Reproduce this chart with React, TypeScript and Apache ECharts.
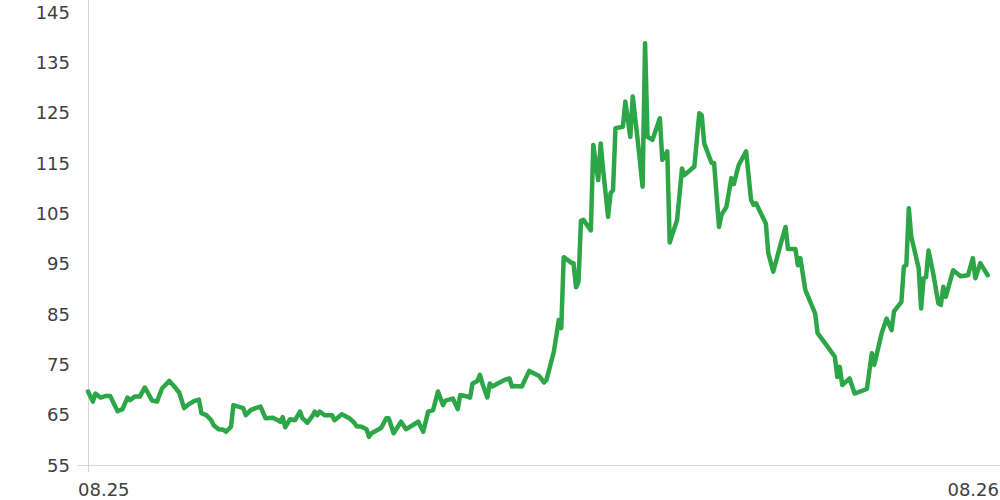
import React, { useEffect, useRef } from "react";
import * as echarts from "echarts";

// Day offsets from the first observation (calendar days)
const days = [
  0, 2, 3, 5, 7, 9, 12, 14, 16, 17, 19, 21, 23, 24, 26, 28, 30, 33, 35, 37,
  39, 41, 43, 45, 46, 48, 50, 51, 53, 55, 56, 58, 59, 61, 63, 64, 66, 68, 70, 72,
  75, 77, 78, 79, 80, 82, 84, 86, 87, 89, 91, 92, 93, 94, 96, 99, 100, 103, 106, 108,
  109, 111, 113, 114, 115, 118, 119, 121, 122, 124, 127, 129, 131, 134, 136, 138, 140, 142, 144, 145,
  148, 150, 151, 154, 155, 156, 158, 159, 160, 162, 163, 164, 167, 169, 171, 172, 173, 176, 179, 181,
  183, 185, 186, 189, 191, 192, 193, 196, 197, 198, 199, 200, 201, 204, 205, 207, 208, 209, 211, 212,
  213, 214, 217, 218, 220, 221, 223, 225, 226, 227, 229, 232, 233, 235, 236, 239, 241, 242, 246, 248,
  249, 250, 253, 254, 256, 257, 259, 261, 262, 264, 267, 269, 270, 271, 275, 276, 278, 281, 283, 284,
  287, 288, 289, 291, 295, 296, 299, 303, 304, 305, 306, 309, 311, 316, 318, 319, 322, 324, 326, 327,
  330, 331, 332, 333, 334, 337, 338, 339, 340, 341, 343, 345, 346, 347, 348, 351, 354, 357, 359, 360,
  362, 365,
];

const prices = [
  69.6, 67.6, 69.2, 68.4, 68.7, 68.7, 65.7, 66.1, 68.4, 67.9, 68.6, 68.6, 70.4, 69.6, 67.8, 67.6, 70.2, 71.7, 70.6, 69.4,
  66.3, 67.1, 67.7, 68.0, 65.3, 64.9, 63.9, 62.9, 62.1, 62.0, 61.6, 62.6, 66.9, 66.6, 66.3, 64.9, 65.9, 66.3, 66.6, 64.3,
  64.4, 63.9, 63.6, 64.5, 62.5, 64.1, 63.9, 65.6, 64.3, 63.4, 64.7, 65.6, 64.9, 65.6, 64.9, 64.9, 63.9, 65.1, 64.3, 63.4,
  62.7, 62.6, 62.1, 60.6, 61.3, 62.1, 62.4, 64.3, 64.3, 61.3, 63.6, 62.1, 62.7, 63.6, 61.6, 65.6, 65.9, 69.6, 66.9, 67.8,
  68.2, 66.1, 68.9, 68.6, 68.4, 71.2, 71.7, 72.9, 71.2, 68.4, 71.2, 70.6, 71.4, 71.9, 72.2, 70.6, 70.7, 70.6, 73.7, 73.2,
  72.7, 71.4, 71.9, 77.5, 83.8, 82.2, 96.3, 95.2, 95.1, 90.3, 91.4, 103.5, 103.7, 101.6, 118.6, 111.6, 118.9, 113.6, 104.3, 109.0,
  109.6, 121.9, 122.2, 127.2, 120.2, 128.2, 119.6, 110.3, 138.8, 120.2, 119.6, 123.9, 115.6, 117.3, 99.2, 103.7, 113.9, 112.6, 114.3, 124.9,
  124.5, 118.9, 115.0, 115.0, 102.3, 104.7, 106.3, 112.0, 110.8, 114.6, 117.3, 107.7, 106.7, 107.0, 103.0, 97.1, 93.4, 98.9, 102.3, 97.9,
  97.9, 94.7, 96.1, 89.8, 85.1, 81.2, 79.2, 76.5, 72.5, 74.5, 70.9, 72.2, 69.2, 70.1, 77.2, 74.9, 81.2, 84.1, 81.8, 85.5,
  87.4, 94.4, 94.7, 106.0, 100.4, 94.1, 86.1, 92.1, 92.3, 97.6, 92.8, 87.1, 86.8, 90.4, 88.4, 93.7, 92.5, 92.7, 96.1, 92.1,
  95.1, 92.7,
];

const xLabels = ["08.25", "08.26"];
const yMin = 55;
const yStep = 10;

const GREEN = "#2ca646";
const AXIS = "#d6d6d6";
const TEXT = "#404040";
const FONT = "DejaVu Sans";

export default function App() {
  const ref = useRef<HTMLDivElement>(null);

  useEffect(() => {
    if (!ref.current) return;
    const chart = echarts.init(ref.current, null, { renderer: "svg" });
    const data = days.map((d, i) => [d, prices[i]]);
    chart.setOption({
      animation: false,
      backgroundColor: "#ffffff",
      grid: { left: 88, right: 0, top: 0, bottom: 35, containLabel: false, outerBoundsMode: "none" },
      xAxis: {
        type: "value",
        min: 0,
        max: 370,
        axisLine: { show: true, lineStyle: { color: AXIS, width: 1 } },
        axisTick: { show: true, customValues: [0], length: 7, lineStyle: { color: AXIS } },
        axisLabel: { show: false },
        splitLine: { show: false },
      },
      yAxis: {
        type: "value",
        min: yMin,
        max: 147.39,
        interval: yStep,
        axisLine: { show: true, lineStyle: { color: AXIS, width: 1 } },
        axisTick: { show: true, customValues: [yMin], length: 10, lineStyle: { color: AXIS } },
        splitLine: { show: false },
        axisLabel: {
          color: TEXT,
          fontSize: 18,
          fontFamily: FONT,
          margin: 18,
          formatter: (v: number) => (Math.abs(((v - yMin) / yStep) - Math.round((v - yMin) / yStep)) < 1e-6 ? String(v) : ""),
        },
      },
      graphic: [
        {
          type: "text",
          x: 78,
          y: 489,
          style: { text: xLabels[0], fill: TEXT, fontSize: 18, fontFamily: FONT, align: "left", verticalAlign: "middle" },
        },
        {
          type: "text",
          x: 999,
          y: 489,
          style: { text: xLabels[1], fill: TEXT, fontSize: 18, fontFamily: FONT, align: "right", verticalAlign: "middle" },
        },
      ],
      series: [
        {
          type: "line",
          data,
          showSymbol: false,
          symbol: "none",
          lineStyle: { color: GREEN, width: 4.5, join: "round", cap: "round" },
          itemStyle: { color: GREEN },
        },
      ],
    });
    return () => chart.dispose();
  }, []);

  return (
    <div
      ref={ref}
      style={{ position: "fixed", left: 0, top: 0, width: 1000, height: 500, background: "#fff" }}
    />
  );
}
